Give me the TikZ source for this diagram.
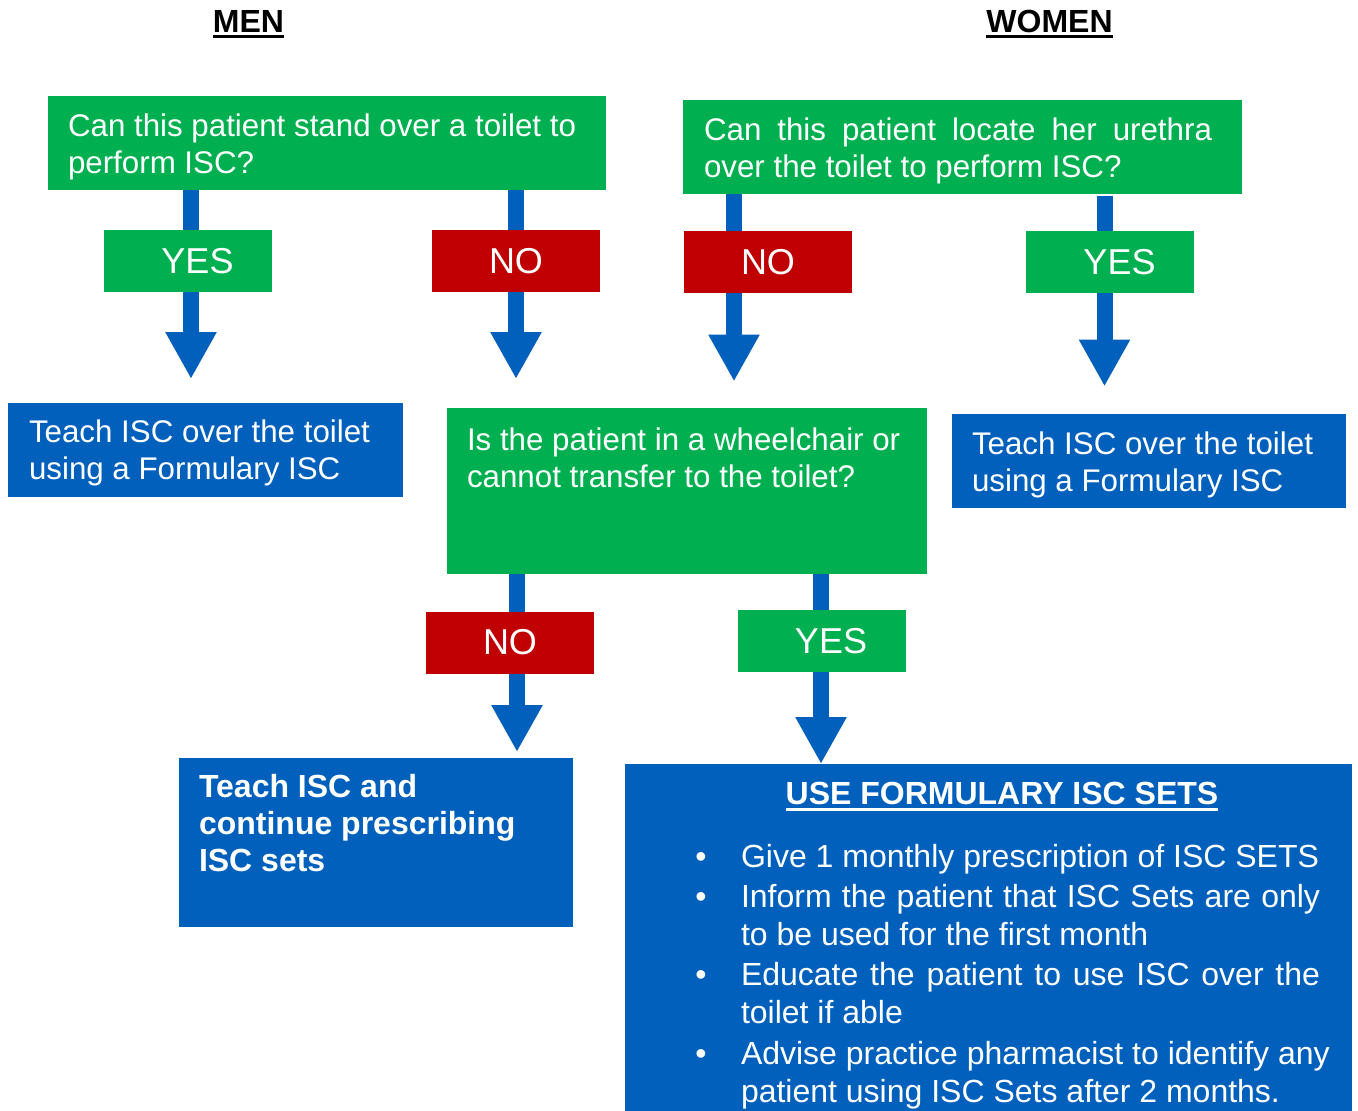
\documentclass[tikz,border=0pt]{standalone}
\usepackage{fontspec}
\setmainfont{Liberation Sans}
\usetikzlibrary{arrows.meta}
\definecolor{cgreen}{RGB}{0,176,80}
\definecolor{cred}{RGB}{192,0,0}
\definecolor{cblue}{RGB}{0,96,187}
\newcommand{\myul}[2]{\leavevmode\setbox0\hbox{#2}\rlap{\rule[#1]{\wd0}{3.2pt}}\box0}
\newcommand{\jline}[2]{\makebox[#1][s]{#2}}
\begin{document}
\begin{tikzpicture}[x=1pt,y=-1pt,
  box/.style={draw=none,inner sep=0,outer sep=0,anchor=north west},
  gbox/.style={box,fill=cgreen},
  bbox/.style={box,fill=cblue},
  lab/.style={draw=none,inner sep=0,outer sep=0,text=white,minimum width=168pt,minimum height=62pt,
    font=\fontsize{36}{40}\selectfont},
  yeslab/.style={lab,fill=cgreen,execute at begin node={\hspace*{19pt}}},
  nolab/.style={lab,fill=cred},
  txt/.style={inner sep=0,outer sep=0,anchor=base west,text=white,align=left,
    font=\fontsize{31.3}{37}\selectfont},
  btxt/.style={txt,font=\fontsize{32}{37}\selectfont\bfseries},
  itxt/.style={txt,font=\fontsize{32}{38}\selectfont},
  ttl/.style={inner sep=0,outer sep=0,anchor=base,text=black,font=\fontsize{32}{36}\selectfont\bfseries},
  arr/.style={draw=cblue,line width=16pt,-{Triangle[width=48pt,length=47pt]}}
]
\useasboundingbox (0,0) rectangle (1358,1111);
\fill[white] (0,0) rectangle (1358,1111);

% titles
\node[ttl] (men) at (248.5,32) {\myul{-6pt}{MEN}};
\node[ttl] (women) at (1049.5,32) {\myul{-6pt}{WOMEN}};

% boxes
\node[gbox,minimum width=558pt,minimum height=94pt] (q1) at (48,96) {};
\node[gbox,minimum width=559pt,minimum height=94pt] (q2) at (683,100) {};
\node[bbox,minimum width=395pt,minimum height=94pt] (t1) at (8,403) {};
\node[bbox,minimum width=394pt,minimum height=94pt] (t2) at (952,414) {};
\node[gbox,minimum width=480pt,minimum height=166pt] (q3) at (447,408) {};
\node[bbox,minimum width=394pt,minimum height=169pt] (t3) at (179,758) {};
\node[bbox,minimum width=727pt,minimum height=360pt] (t4) at (625,764) {};

% box texts (anchored at the baseline of their last line)
\node[txt] (q1t) at (68,173) {Can this patient stand over a toilet to\\perform ISC?};
\node[txt] (q2t) at (704,177) {\jline{508pt}{Can this patient locate her urethra}\\over the toilet to perform ISC?};
\node[txt] (t1t) at (29,479.5) {Teach ISC over the toilet\\using a Formulary ISC};
\node[txt] (t2t) at (972,491) {Teach ISC over the toilet\\using a Formulary ISC};
\node[txt] (q3t) at (467,487) {Is the patient in a wheelchair or\\cannot transfer to the toilet?};
\node[btxt] (t3t) at (199,871.5) {Teach ISC and\\continue prescribing\\ISC sets};

\node[ttl,text=white] (t4h) at (1002,804) {\myul{-7pt}{USE FORMULARY ISC SETS}};
\node[itxt] (i1) at (741,867) {\llap{•\hspace{34.4pt}}Give 1 monthly prescription of ISC SETS};
\node[itxt] (i2) at (741,945) {\llap{•\hspace{34.4pt}}\jline{579pt}{Inform the patient that ISC Sets are only}\\to be used for the first month};
\node[itxt] (i3) at (741,1023) {\llap{•\hspace{34.4pt}}\jline{579pt}{Educate the patient to use ISC over the}\\toilet if able};
\node[itxt] (i4) at (741,1102) {\llap{•\hspace{34.4pt}}Advise practice pharmacist to identify any\\patient using ISC Sets after 2 months.};

% arrow end points
\coordinate (e1) at (191,379);
\coordinate (e2) at (516,379);
\coordinate (e3) at (734,381.5);
\coordinate (e4) at (1104.5,386.5);
\coordinate (e5) at (517,752);
\coordinate (e6) at (821,764);

% connectors
\draw[arr] (q1.south -| e1) -- (e1);
\draw[arr] (q1.south -| e2) -- (e2);
\draw[arr] (q2.south -| e3) -- (e3);
\draw[arr] ([yshift=-2pt]q2.south -| e4) -- (e4);
\draw[arr] (q3.south -| e5) -- (e5);
\draw[arr] (q3.south -| e6) -- (t4.north -| e6);

% labels
\node[yeslab] (y1) at (188,261) {YES};
\node[nolab] (n1) at (516,261) {NO};
\node[nolab] (n2) at (768,262) {NO};
\node[yeslab] (y2) at (1110,262) {YES};
\node[nolab] (n3) at (510,642.5) {NO};
\node[yeslab] (y3) at (821.5,641) {YES};
\end{tikzpicture}
\end{document}
